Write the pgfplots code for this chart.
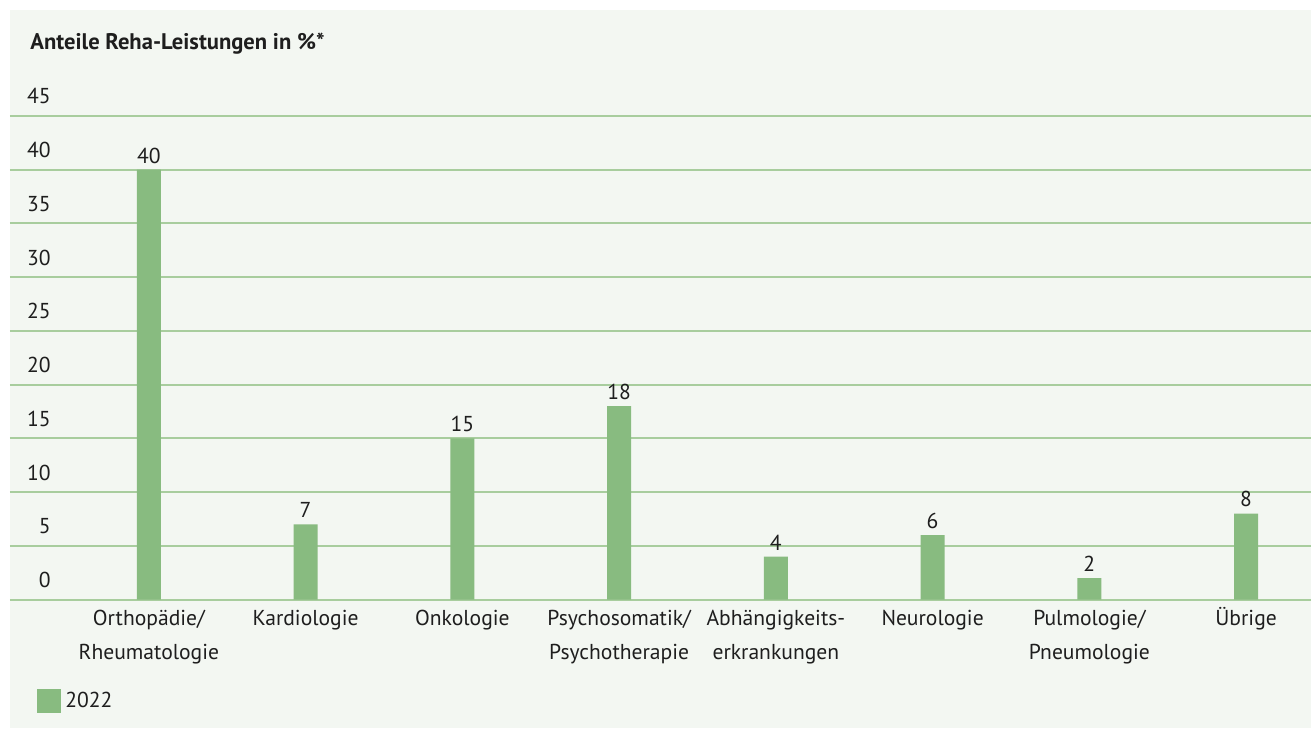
\documentclass[border=0pt]{standalone}
\usepackage{fontspec}
\setmainfont{PT Sans}
\usepackage{pgfplots}
\pgfplotsset{compat=1.18}
\definecolor{bg}{HTML}{F3F7F2}
\definecolor{barc}{HTML}{88BB80}
\definecolor{gridc}{HTML}{A8CD9E}
\definecolor{txt}{HTML}{1E1E1E}
\newcommand{\St}{\rule{0pt}{10pt}}
\newcommand{\fnt}{\fontsize{10.8}{12}\selectfont}
\begin{document}
\begin{tikzpicture}
\path (-5pt,-64.5pt) rectangle (651pt,300pt);
\fill[bg] (0pt,-64.5pt) rectangle (651pt,295pt);
\node[anchor=base west, font=\bfseries\fontsize{11.3}{13}\selectfont, text=txt, inner sep=0pt] at (10pt,275pt) {Anteile Reha-Leistungen in \%*};
\begin{axis}[
  at={(0pt,0pt)}, anchor=south west,
  scale only axis, width=651pt, height=242pt,
  xmin=-0.886, xmax=7.414, ymin=0, ymax=45,
  ytick={0,5,...,45}, xtick={0,...,7},
  xticklabels={\St Orthopädie/\\Rheumatologie, \St Kardiologie, \St Onkologie, \St Psychosomatik/\\Psychotherapie, \St Abhängigkeits-\\erkrankungen, \St Neurologie, \St Pulmologie/\\Pneumologie, \St Übrige},
  axis line style={draw=none},
  tick style={draw=none},
  ymajorgrids, major grid style={gridc, line width=1pt},
  /pgf/number format/assume math mode=true,
  yticklabel style={anchor=base east, inner sep=0pt, xshift=20.5pt, yshift=6pt, font=\fnt, text=txt},
  xticklabel style={anchor=north, align=center, inner sep=0pt, yshift=1.5pt, font=\fontsize{10.8}{17}\selectfont, text=txt},
  ybar, bar width=12pt,
  nodes near coords,
  every node near coord/.append style={font=\fnt, text=txt, inner sep=3pt},
  legend style={at={(axis description cs:0.0207,-0.2107)}, anchor=west, draw=none, fill=none, inner sep=0pt, font=\fnt, text=txt},
  legend image code/.code={\fill[barc] (0pt,-6pt) rectangle (12pt,6pt);},
]
\addplot[fill=barc, draw=none] coordinates {(0,40) (1,7) (2,15) (3,18) (4,4) (5,6) (6,2) (7,8)};
\addlegendentry{2022}
\end{axis}
\end{tikzpicture}
\end{document}
